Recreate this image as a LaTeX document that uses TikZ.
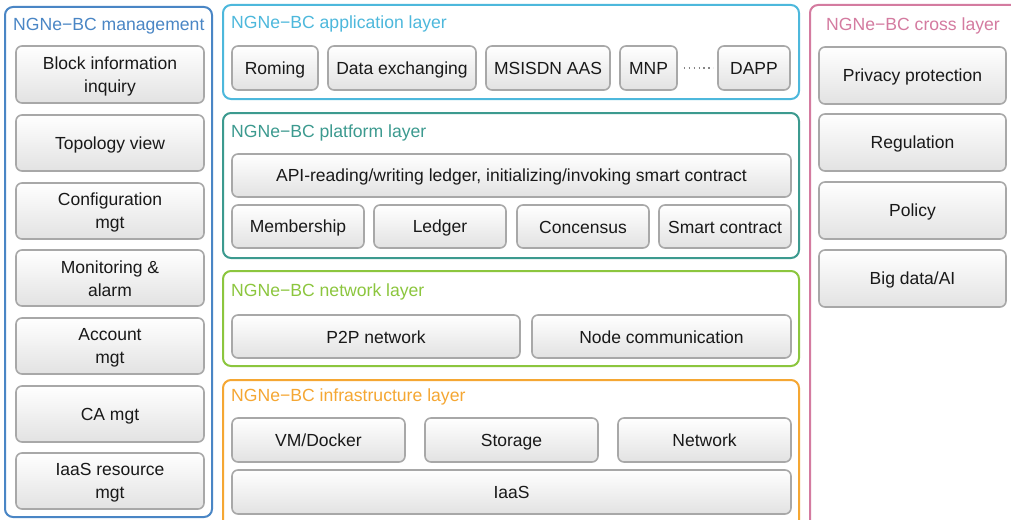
\documentclass[tikz,border=0pt]{standalone}
\usepackage{fontspec}
\setmainfont{Liberation Sans}
\usetikzlibrary{shadings}
\definecolor{mgmtc}{HTML}{4A86C5}
\definecolor{appc}{HTML}{4DB8DC}
\definecolor{platc}{HTML}{3C9A8F}
\definecolor{netc}{HTML}{8CC63E}
\definecolor{infc}{HTML}{F5A733}
\definecolor{crossc}{HTML}{D47BA0}
\definecolor{boxline}{HTML}{A8A8A8}
\definecolor{boxbot}{HTML}{E2E2E2}
\tikzset{
  layer/.style={line width=2pt, rounded corners=8pt},
  ltitle/.style={anchor=west, inner sep=0pt, font=\fontsize{17.6}{20}\selectfont},
  unit/.style={draw=boxline, line width=1.6pt, rounded corners=6pt,
    top color=white, bottom color=boxbot, inner sep=0pt, align=center,
    font=\fontsize{17.5}{23}\selectfont, text=black!90},
}
% fixed strut so that every label sits at the same height in its box
\newcommand{\ustr}{\rule[-3pt]{0pt}{19pt}}
% box: name, x1, y1, x2, y2, text
\newcommand{\ubox}[6]{%
  \pgfmathsetmacro{\uw}{#4-#2}\pgfmathsetmacro{\uh}{#5-#3}%
  \node[unit, minimum width=\uw pt, minimum height=\uh pt] (#1) at ({(#2+#4)/2},{(#3+#5)/2}) {\ustr#6\ustr};}
\begin{document}
\begin{tikzpicture}[x=1pt,y=-1pt]
\clip (0,0) rectangle (1011,519);
\fill[white] (0,0) rectangle (1011,519);

% management column
\draw[layer, draw=mgmtc] (5,7) rectangle (212,517);
\node[ltitle, text=mgmtc] (tmgmt) at (13,26) {NGNe−BC management};
\ubox{m1}{16}{46}{204}{103}{Block information\\inquiry}
\ubox{m2}{16}{115}{204}{171}{Topology view}
\ubox{m3}{16}{183}{204}{239}{Configuration\\mgt}
\ubox{m4}{16}{250}{204}{306}{Monitoring \&\\alarm}
\ubox{m5}{16}{318}{204}{374}{Account\\mgt}
\ubox{m6}{16}{386}{204}{442}{CA mgt}
\ubox{m7}{16}{453}{204}{509}{IaaS resource\\mgt}

% application layer
\draw[layer, draw=appc] (223,5) rectangle (799,99);
\node[ltitle, text=appc] (tapp) at (231,24) {NGNe−BC application layer};
\ubox{a1}{232}{46}{318}{90}{Roming}
\ubox{a2}{328}{46}{476}{90}{Data exchanging}
\ubox{a3}{486}{46}{610}{90}{MSISDN AAS}
\ubox{a4}{620}{46}{677}{90}{MNP}
\ubox{a5}{718}{46}{790}{90}{DAPP}
\draw[boxline!80!black, line width=1.5pt, dash pattern=on 1.5pt off 3.4pt, shorten <=6pt, shorten >=4pt] (a4) -- (a5);

% platform layer
\draw[layer, draw=platc] (223,113) rectangle (799,258);
\node[ltitle, text=platc] (tplat) at (231,133) {NGNe−BC platform layer};
\ubox{p0}{232}{154}{791}{197}{API-reading/writing ledger, initializing/invoking smart contract}
\ubox{p1}{232}{205}{364}{248}{Membership}
\ubox{p2}{374}{205}{506}{248}{Ledger}
\ubox{p3}{517}{205}{649}{248}{Concensus}
\ubox{p4}{659}{205}{791}{248}{Smart contract}

% network layer
\draw[layer, draw=netc] (223,271) rectangle (799,366);
\node[ltitle, text=netc] (tnet) at (231,292) {NGNe−BC network layer};
\ubox{n1}{232}{315}{520}{358}{P2P network}
\ubox{n2}{532}{315}{791}{358}{Node communication}

% infrastructure layer
\draw[layer, draw=infc] (223,380) rectangle (799,535);
\node[ltitle, text=infc] (tinf) at (231,397) {NGNe−BC infrastructure layer};
\ubox{i1}{232}{418}{405}{462}{VM/Docker}
\ubox{i2}{425}{418}{598}{462}{Storage}
\ubox{i3}{618}{418}{791}{462}{Network}
\ubox{i4}{232}{470}{791}{514}{IaaS}

% cross layer column
\draw[layer, draw=crossc] (810,5) rectangle (1022,535);
\node[ltitle, text=crossc] (tcross) at (826,26) {NGNe−BC cross layer};
\ubox{c1}{819}{47}{1006}{104}{Privacy protection}
\ubox{c2}{819}{114}{1006}{171}{Regulation}
\ubox{c3}{819}{182}{1006}{239}{Policy}
\ubox{c4}{819}{250}{1006}{307}{Big data/AI}
\end{tikzpicture}
\end{document}
